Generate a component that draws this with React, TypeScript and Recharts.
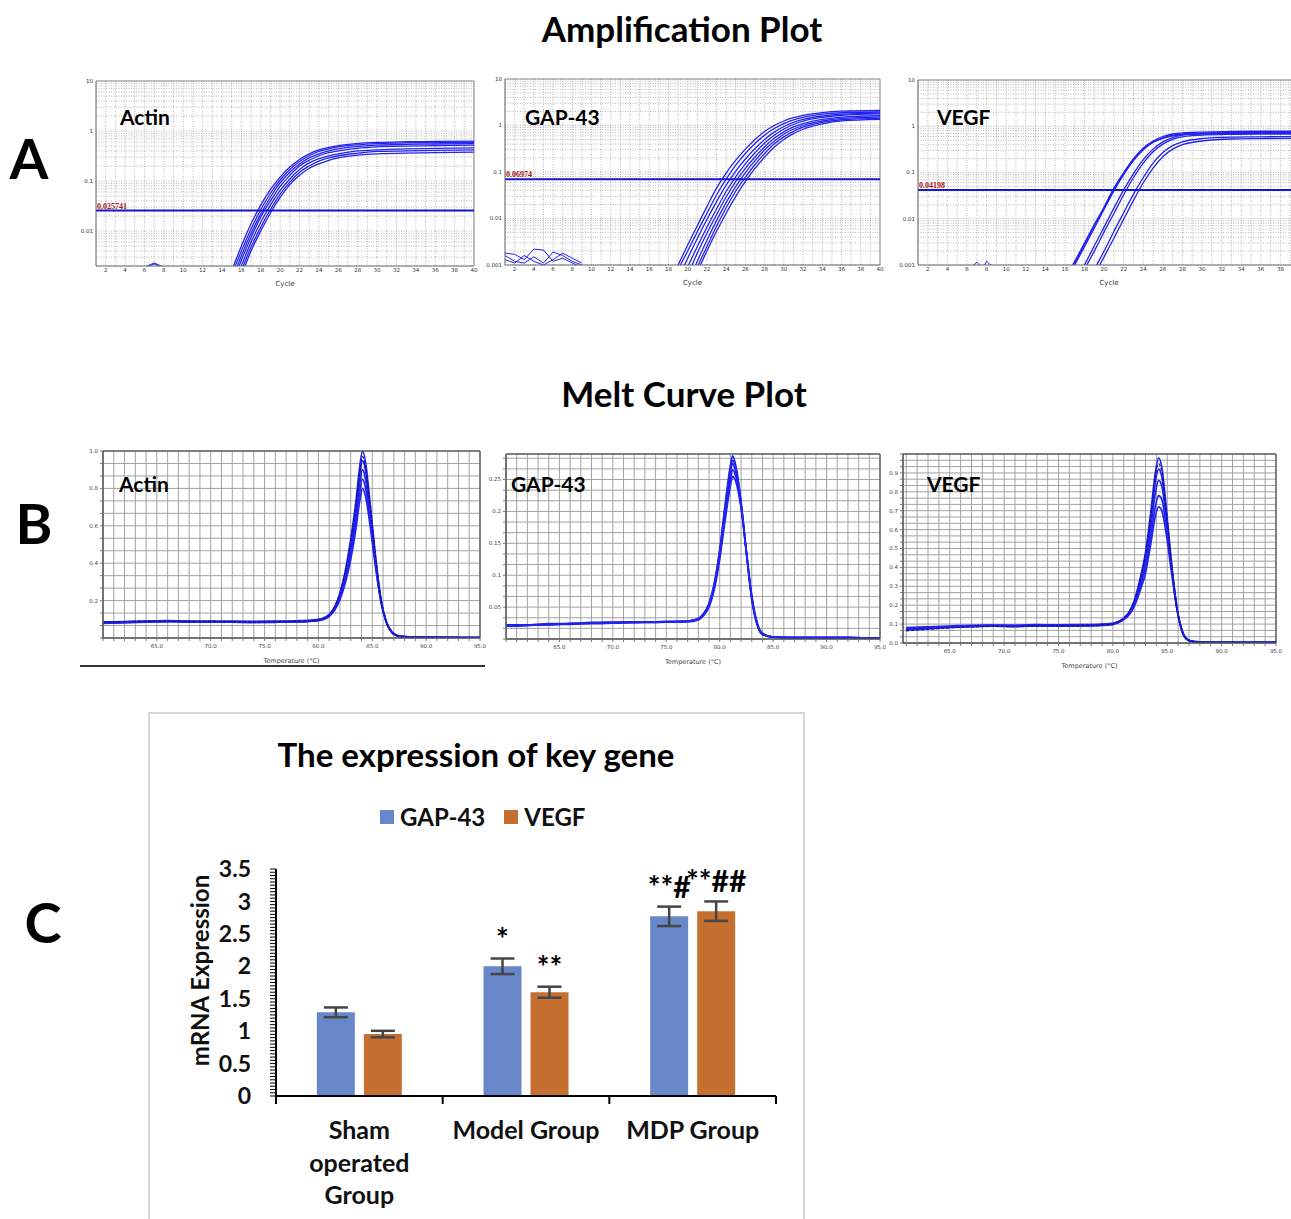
import React from 'react';
import { LineChart, Line, XAxis, YAxis, CartesianGrid, ReferenceLine, BarChart, Bar, ErrorBar, LabelList } from 'recharts';

const SANS = 'Lato, "Open Sans", "DejaVu Sans", sans-serif';
const TINY = '"DejaVu Sans", "Liberation Sans", sans-serif';

// ---------------- Panel A : amplification plots ----------------
const ampDecades = [0.001, 0.01, 0.1, 1, 10];
const ampDecadeLabels = ['0.001', '0.01', '0.1', '1', '10'];
const ampMinorSteps = [2, 3, 4, 5, 6, 7, 8, 9];
const cycleTicks = Array.from({ length: 40 }, (_, i) => i + 1);

const actinCycles = [14, 15, 16, 17, 18, 19, 20, 21, 22, 23, 24, 25, 26, 28, 30, 33, 36, 40];
const actinAmp = [
  [0.0005, 0.0016, 0.005, 0.014, 0.033, 0.068, 0.12, 0.19, 0.27, 0.35, 0.42, 0.47, 0.51, 0.56, 0.59, 0.61, 0.62, 0.63],
  [0.0004, 0.0013, 0.004, 0.011, 0.027, 0.057, 0.105, 0.17, 0.245, 0.32, 0.39, 0.44, 0.48, 0.53, 0.56, 0.58, 0.585, 0.59],
  [0.0003, 0.001, 0.0032, 0.009, 0.022, 0.048, 0.092, 0.15, 0.22, 0.29, 0.35, 0.4, 0.44, 0.49, 0.52, 0.54, 0.55, 0.56],
  [0.00025, 0.0008, 0.0026, 0.0075, 0.019, 0.04, 0.078, 0.13, 0.2, 0.26, 0.32, 0.37, 0.4, 0.45, 0.48, 0.5, 0.51, 0.52],
  [0.0002, 0.0006, 0.002, 0.006, 0.015, 0.033, 0.065, 0.11, 0.17, 0.23, 0.28, 0.32, 0.35, 0.4, 0.42, 0.44, 0.45, 0.46],
  [0.00015, 0.0005, 0.0016, 0.0048, 0.012, 0.027, 0.055, 0.095, 0.15, 0.2, 0.25, 0.29, 0.32, 0.36, 0.39, 0.4, 0.41, 0.42],
  [0.0001, 0.0004, 0.0013, 0.004, 0.01, 0.023, 0.047, 0.085, 0.13, 0.18, 0.22, 0.26, 0.29, 0.33, 0.35, 0.36, 0.37, 0.38],
];
const actinNoise = [
  { cycles: [6, 7, 8], values: [0.0019, 0.0023, 0.0019] },
  { cycles: [6, 7, 8], values: [0.00185, 0.0022, 0.00185] },
];

const gapCycles = [18, 19, 20, 21, 22, 23, 24, 25, 26, 27, 28, 29, 30, 31, 32, 34, 36, 40];
const gapAmp = [
  [0.0004, 0.001, 0.0027, 0.007, 0.018, 0.045, 0.095, 0.18, 0.31, 0.5, 0.74, 1.0, 1.25, 1.47, 1.65, 1.9, 2.03, 2.1],
  [0.0003, 0.0008, 0.002, 0.0052, 0.013, 0.032, 0.07, 0.14, 0.25, 0.41, 0.62, 0.86, 1.1, 1.32, 1.5, 1.75, 1.88, 1.95],
  [0.0002, 0.0005, 0.0014, 0.0037, 0.0095, 0.023, 0.052, 0.105, 0.19, 0.32, 0.5, 0.72, 0.95, 1.17, 1.35, 1.6, 1.75, 1.85],
  [0.0001, 0.0003, 0.0009, 0.0025, 0.0065, 0.016, 0.038, 0.08, 0.15, 0.26, 0.42, 0.62, 0.84, 1.05, 1.24, 1.5, 1.66, 1.78],
  [0.0001, 0.0002, 0.0006, 0.0018, 0.0048, 0.012, 0.029, 0.063, 0.12, 0.21, 0.35, 0.53, 0.73, 0.93, 1.1, 1.36, 1.52, 1.62],
  [0.00005, 0.00015, 0.0004, 0.0012, 0.0034, 0.009, 0.022, 0.049, 0.097, 0.175, 0.3, 0.46, 0.65, 0.84, 1.0, 1.25, 1.42, 1.52],
  [0.00004, 0.0001, 0.0003, 0.0009, 0.0025, 0.0068, 0.017, 0.039, 0.078, 0.145, 0.25, 0.4, 0.57, 0.75, 0.92, 1.17, 1.33, 1.42],
  [0.00003, 0.00008, 0.00022, 0.0007, 0.002, 0.0053, 0.013, 0.03, 0.063, 0.12, 0.21, 0.34, 0.5, 0.67, 0.83, 1.08, 1.26, 1.36],
];
const gapNoise = [
  { cycles: [1, 2, 3, 4, 5, 6, 7, 8, 9], values: [0.0018, 0.0017, 0.0013, 0.0022, 0.0021, 0.0012, 0.0014, 0.0011, 0.0009] },
  { cycles: [1, 2, 3, 4, 5, 6, 7, 8, 9], values: [0.0016, 0.0012, 0.0011, 0.0015, 0.0011, 0.0019, 0.0016, 0.0012, 0.001] },
  { cycles: [1, 2, 3, 4, 5, 6, 7, 8, 9], values: [0.0013, 0.0011, 0.0016, 0.0012, 0.001, 0.0013, 0.0018, 0.0014, 0.0011] },
];

const vegfCycles = [15, 16, 17, 18, 19, 20, 21, 22, 23, 24, 25, 26, 27, 28, 30, 33, 36, 40];
const vegfAmp = [
  [0.0002, 0.0005, 0.0012, 0.003, 0.0075, 0.018, 0.046, 0.1, 0.2, 0.34, 0.48, 0.6, 0.68, 0.72, 0.75, 0.77, 0.78, 0.78],
  [0.00015, 0.0004, 0.001, 0.0025, 0.0063, 0.016, 0.04, 0.09, 0.18, 0.31, 0.45, 0.56, 0.64, 0.68, 0.71, 0.73, 0.74, 0.74],
  [0.00018, 0.00045, 0.0011, 0.0028, 0.007, 0.017, 0.043, 0.095, 0.19, 0.32, 0.45, 0.55, 0.62, 0.66, 0.68, 0.7, 0.7, 0.7],
  [0.00006, 0.00016, 0.0004, 0.001, 0.0026, 0.0066, 0.017, 0.042, 0.095, 0.19, 0.32, 0.46, 0.57, 0.64, 0.69, 0.71, 0.72, 0.72],
  [0.00005, 0.00012, 0.0003, 0.0008, 0.002, 0.0052, 0.013, 0.033, 0.078, 0.16, 0.28, 0.41, 0.52, 0.59, 0.64, 0.67, 0.68, 0.68],
  [0.00002, 0.00005, 0.00012, 0.0003, 0.0008, 0.002, 0.0053, 0.0135, 0.034, 0.078, 0.16, 0.27, 0.38, 0.46, 0.54, 0.58, 0.59, 0.6],
  [0.00001, 0.00003, 0.00008, 0.0002, 0.0006, 0.0015, 0.0038, 0.0098, 0.025, 0.06, 0.125, 0.22, 0.32, 0.4, 0.48, 0.53, 0.54, 0.55],
];
const vegfNoise = [
  { cycles: [6.5, 7, 7.5, 7.8, 8, 8.3, 8.8], values: [0.0009, 0.00115, 0.0009, 0.001, 0.0012, 0.00105, 0.0009] },
];

// ---------------- Panel B : melt curves ----------------
const actinMeltT = [60, 62, 64, 66, 68, 70, 72, 74, 76, 78, 79, 80, 80.5, 81, 81.5, 82, 82.5, 83, 83.5, 83.8, 84.1, 84.4, 84.8, 85.3, 85.8, 86.3, 86.8, 87.3, 88, 90, 92, 95];
const actinMelt = [
  [0.08, 0.084, 0.086, 0.09, 0.087, 0.088, 0.086, 0.085, 0.086, 0.088, 0.09, 0.096, 0.102, 0.122, 0.165, 0.24, 0.36, 0.53, 0.74, 0.9, 1.0, 0.93, 0.72, 0.44, 0.21, 0.085, 0.03, 0.012, 0.006, 0.004, 0.003, 0.002],
  [0.083, 0.086, 0.089, 0.092, 0.088, 0.09, 0.088, 0.087, 0.088, 0.09, 0.092, 0.098, 0.105, 0.125, 0.165, 0.235, 0.345, 0.5, 0.7, 0.855, 0.95, 0.885, 0.69, 0.425, 0.205, 0.085, 0.031, 0.012, 0.006, 0.004, 0.003, 0.002],
  [0.078, 0.082, 0.085, 0.088, 0.09, 0.086, 0.085, 0.083, 0.084, 0.086, 0.088, 0.093, 0.1, 0.118, 0.155, 0.22, 0.325, 0.475, 0.665, 0.81, 0.9, 0.84, 0.655, 0.405, 0.2, 0.085, 0.032, 0.013, 0.007, 0.004, 0.003, 0.002],
  [0.086, 0.088, 0.09, 0.093, 0.09, 0.088, 0.09, 0.089, 0.09, 0.092, 0.094, 0.1, 0.108, 0.125, 0.16, 0.22, 0.315, 0.455, 0.63, 0.765, 0.85, 0.795, 0.625, 0.39, 0.195, 0.085, 0.033, 0.013, 0.007, 0.004, 0.003, 0.002],
  [0.081, 0.083, 0.086, 0.087, 0.085, 0.087, 0.086, 0.084, 0.085, 0.087, 0.089, 0.094, 0.1, 0.115, 0.148, 0.205, 0.295, 0.42, 0.59, 0.72, 0.8, 0.75, 0.6, 0.38, 0.195, 0.088, 0.035, 0.014, 0.008, 0.004, 0.003, 0.002],
  [0.084, 0.087, 0.09, 0.091, 0.087, 0.089, 0.087, 0.086, 0.087, 0.089, 0.091, 0.097, 0.104, 0.124, 0.168, 0.245, 0.36, 0.52, 0.72, 0.875, 0.97, 0.9, 0.7, 0.43, 0.21, 0.085, 0.03, 0.012, 0.006, 0.004, 0.003, 0.002],
];

const gapMeltT = [60, 62, 64, 66, 68, 70, 72, 74, 76, 77, 78, 78.5, 79, 79.5, 80, 80.5, 81, 81.2, 81.5, 82, 82.5, 83, 83.5, 84, 85, 88, 92, 95];
const gapMelt = [
  [0.021, 0.022, 0.023, 0.024, 0.025, 0.026, 0.026, 0.027, 0.027, 0.028, 0.032, 0.04, 0.056, 0.088, 0.14, 0.21, 0.272, 0.287, 0.272, 0.215, 0.135, 0.062, 0.022, 0.007, 0.003, 0.002, 0.002, 0.001],
  [0.02, 0.021, 0.023, 0.023, 0.025, 0.025, 0.026, 0.026, 0.027, 0.028, 0.031, 0.039, 0.054, 0.085, 0.135, 0.2, 0.26, 0.275, 0.262, 0.21, 0.135, 0.064, 0.024, 0.008, 0.003, 0.002, 0.002, 0.001],
  [0.022, 0.022, 0.024, 0.024, 0.026, 0.026, 0.027, 0.027, 0.028, 0.028, 0.031, 0.038, 0.052, 0.082, 0.13, 0.193, 0.25, 0.265, 0.255, 0.208, 0.136, 0.066, 0.025, 0.008, 0.003, 0.002, 0.002, 0.001],
  [0.021, 0.022, 0.022, 0.024, 0.024, 0.025, 0.026, 0.027, 0.027, 0.027, 0.03, 0.037, 0.05, 0.078, 0.125, 0.185, 0.24, 0.255, 0.247, 0.205, 0.137, 0.068, 0.026, 0.009, 0.003, 0.002, 0.002, 0.001],
  [0.02, 0.022, 0.023, 0.024, 0.025, 0.026, 0.026, 0.026, 0.027, 0.028, 0.032, 0.04, 0.055, 0.087, 0.138, 0.205, 0.266, 0.28, 0.268, 0.213, 0.135, 0.063, 0.023, 0.007, 0.003, 0.002, 0.002, 0.001],
];

const vegfMeltT = [61, 63, 65, 67, 69, 71, 73, 75, 77, 79, 80, 80.5, 81, 81.5, 82, 82.5, 83, 83.5, 83.9, 84.2, 84.5, 84.9, 85.4, 85.9, 86.4, 86.9, 87.5, 88.5, 90, 93, 95];
const vegfMelt = [
  [0.072, 0.08, 0.085, 0.09, 0.092, 0.09, 0.094, 0.093, 0.094, 0.097, 0.102, 0.112, 0.132, 0.165, 0.23, 0.34, 0.48, 0.7, 0.9, 0.98, 0.93, 0.72, 0.42, 0.18, 0.055, 0.015, 0.006, 0.004, 0.003, 0.003, 0.003],
  [0.078, 0.083, 0.087, 0.091, 0.093, 0.092, 0.095, 0.094, 0.095, 0.098, 0.103, 0.113, 0.132, 0.163, 0.222, 0.325, 0.455, 0.66, 0.85, 0.92, 0.88, 0.69, 0.41, 0.18, 0.057, 0.016, 0.006, 0.004, 0.003, 0.003, 0.003],
  [0.068, 0.075, 0.082, 0.086, 0.09, 0.088, 0.09, 0.089, 0.09, 0.093, 0.098, 0.108, 0.126, 0.155, 0.21, 0.305, 0.425, 0.615, 0.79, 0.86, 0.83, 0.66, 0.4, 0.18, 0.058, 0.017, 0.007, 0.004, 0.003, 0.003, 0.003],
  [0.082, 0.086, 0.09, 0.094, 0.095, 0.094, 0.097, 0.096, 0.097, 0.1, 0.104, 0.113, 0.13, 0.158, 0.21, 0.295, 0.4, 0.57, 0.72, 0.78, 0.76, 0.62, 0.39, 0.18, 0.06, 0.018, 0.007, 0.004, 0.003, 0.003, 0.003],
  [0.075, 0.079, 0.084, 0.088, 0.089, 0.087, 0.09, 0.09, 0.091, 0.094, 0.099, 0.108, 0.124, 0.15, 0.198, 0.275, 0.37, 0.53, 0.67, 0.72, 0.7, 0.58, 0.37, 0.175, 0.06, 0.018, 0.007, 0.004, 0.003, 0.003, 0.003],
  [0.064, 0.072, 0.08, 0.085, 0.088, 0.087, 0.09, 0.09, 0.091, 0.095, 0.1, 0.11, 0.13, 0.163, 0.226, 0.332, 0.47, 0.68, 0.88, 0.95, 0.9, 0.7, 0.41, 0.18, 0.056, 0.016, 0.006, 0.004, 0.003, 0.003, 0.003],
];

const meltXLabels = [65, 70, 75, 80, 85, 90, 95];
const actinMeltYLabels = [0.2, 0.4, 0.6, 0.8, 1.0];
const gapMeltYLabels = [0.05, 0.1, 0.15, 0.2, 0.25];
const vegfMeltYLabels = [0, 0.1, 0.2, 0.3, 0.4, 0.5, 0.6, 0.7, 0.8, 0.9];

// ---------------- Panel C : bar chart ----------------
const groupNames = ['Sham operated Group', 'Model Group', 'MDP Group'];
const groupLines = [['Sham', 'operated', 'Group'], ['Model Group'], ['MDP Group']];
const gapVals = [1.29, 2.0, 2.77];
const gapErr = [0.075, 0.12, 0.15];
const vegfVals = [0.955, 1.6, 2.85];
const vegfErr = [0.05, 0.085, 0.15];
const gapSig = ['', '*', '**#'];
const vegfSig = ['', '**', '**##'];
const barYLabels = [0, 0.5, 1, 1.5, 2, 2.5, 3, 3.5];
const barMinorStep = 0.05;

const GAP_COLOR = '#6787C9';
const VEGF_COLOR = '#C56F31';
const CURVE = '#2323ee';

// ---------- helpers ----------
const ampTicks = [
  ...ampDecades,
  ...ampDecades.slice(0, -1).flatMap((d) => ampMinorSteps.map((m) => +(d * m).toPrecision(3))),
].sort((a, b) => a - b);

const near = (arr: number[], v: number) => arr.find((a) => Math.abs(a - v) < 1e-6);

const thrLabel = (text: string) => (p: any) => {
  const vb = p.viewBox || {};
  return (
    <text x={(vb.x || 0) + 1} y={(vb.y || 0) - 2} fill="#a81414" fontSize={8} fontWeight={700} fontFamily='"Liberation Serif", serif'>
      {text}
    </text>
  );
};

type Box = [number, number, number, number];

function AmpPlot({ box, yMin, cycles, curves, noise, thr, thrText, maxLabel = 40 }: any) {
  const padL = 28, padR = 4, padT = 3, padB = 26;
  const [x0, y0, x1, y1] = box as Box;
  const w = x1 - x0, h = y1 - y0;
  const yTicks = ampTicks.filter((t) => t >= yMin - 1e-12);
  return (
    <div style={{ position: 'absolute', left: x0 - padL, top: y0 - padT }}>
      <LineChart width={w + padL + padR} height={h + padT + padB} margin={{ top: padT, right: padR, bottom: 0, left: 0 }}>
        <CartesianGrid stroke="#8a8a8a" strokeDasharray="1 1.5" strokeWidth={0.6} />
        <XAxis
          type="number" dataKey="x" domain={[1, 40]} ticks={cycleTicks} interval={0} allowDataOverflow height={padB}
          tickFormatter={(v: number) => (v % 2 === 0 && v <= maxLabel ? String(v) : '')}
          tick={{ fontSize: 5.5, fill: '#333', fontFamily: TINY }} tickLine={false} tickSize={1} tickMargin={1}
          axisLine={{ stroke: '#6a6a6a' }}
          label={{ value: 'Cycle', position: 'insideBottom', offset: 6, fontSize: 7, fill: '#333', fontFamily: TINY }}
        />
        <YAxis
          type="number" scale="log" domain={[yMin, 10]} allowDataOverflow ticks={yTicks} interval={0} width={padL}
          tickFormatter={(v: number) => { const d = near(ampDecades, v); return d !== undefined ? ampDecadeLabels[ampDecades.indexOf(d)] : ''; }}
          tick={{ fontSize: 5.5, fill: '#333', fontFamily: TINY }} tickLine={false} tickSize={1} tickMargin={2}
          axisLine={{ stroke: '#6a6a6a' }}
        />
        <ReferenceLine y={10} stroke="#8a8a8a" strokeWidth={1} />
        <ReferenceLine x={40} stroke="#8a8a8a" strokeWidth={1} />
        {noise.map((n: any, k: number) => (
          <Line key={'n' + k} data={n.cycles.map((c: number, i: number) => ({ x: c, y: n.values[i] }))} dataKey="y"
            type="linear" dot={false} stroke={CURVE} strokeWidth={1} isAnimationActive={false} />
        ))}
        {curves.map((vals: number[], k: number) => (
          <Line key={'c' + k} data={cycles.map((c: number, i: number) => ({ x: c, y: vals[i] }))} dataKey="y"
            type="monotone" dot={false} stroke={CURVE} strokeWidth={1.3} isAnimationActive={false} />
        ))}
        <ReferenceLine y={thr} stroke="#1414d2" strokeWidth={2} label={thrLabel(thrText)} />
      </LineChart>
    </div>
  );
}

function MeltPlot({ box, xMin, yMax, yStep, yLabels, yFmt, temps, curves, darkIndex }: any) {
  const padL = 26, padR = 10, padT = 3, padB = 30;
  const [x0, y0, x1, y1] = box as Box;
  const w = x1 - x0, h = y1 - y0;
  const xTicks: number[] = [];
  for (let t = Math.ceil(xMin); t <= 95; t += 1) xTicks.push(t);
  const yTicks: number[] = [];
  for (let k = 0; k * yStep <= yMax + 1e-9; k++) yTicks.push(+(k * yStep).toFixed(5));
  return (
    <div style={{ position: 'absolute', left: x0 - padL, top: y0 - padT }}>
      <LineChart width={w + padL + padR} height={h + padT + padB} margin={{ top: padT, right: padR, bottom: 0, left: 0 }}>
        <CartesianGrid stroke="#a2a2a2" strokeWidth={1} />
        <XAxis
          type="number" dataKey="x" domain={[xMin, 95]} ticks={xTicks} interval={0} allowDataOverflow height={padB}
          tickFormatter={(v: number) => (near(meltXLabels, v) !== undefined ? v.toFixed(1) : '')}
          tick={{ fontSize: 5.5, fill: '#444', fontFamily: TINY }} tickSize={3} tickMargin={3}
          tickLine={{ stroke: '#777' }} axisLine={{ stroke: '#555', strokeWidth: 1.5 }}
          label={{ value: 'Temperature (°C)', position: 'insideBottom', offset: 5, fontSize: 6.5, fill: '#444', fontFamily: TINY }}
        />
        <YAxis
          type="number" domain={[0, yMax]} allowDataOverflow ticks={yTicks} interval={0} width={padL}
          tickFormatter={(v: number) => { const l = near(yLabels, v); return l !== undefined ? yFmt(l) : ''; }}
          tick={{ fontSize: 5.5, fill: '#444', fontFamily: TINY }} tickSize={3} tickMargin={2}
          tickLine={{ stroke: '#777' }} axisLine={{ stroke: '#555', strokeWidth: 1.5 }}
        />
        <ReferenceLine y={yMax} stroke="#666" strokeWidth={1.5} />
        <ReferenceLine x={95} stroke="#666" strokeWidth={1.5} />
        {curves.map((vals: number[], k: number) => (
          <Line key={'m' + k} data={temps.map((t: number, i: number) => ({ x: t, y: vals[i] }))} dataKey="y"
            type="monotone" dot={false}
            stroke={k === darkIndex ? '#12127a' : CURVE}
            strokeWidth={k === darkIndex ? 1.1 : 1.7}
            strokeDasharray={k === darkIndex ? '3 2' : undefined}
            isAnimationActive={false} />
        ))}
      </LineChart>
    </div>
  );
}

const Txt = ({ x, y, size, children, center = true, weight = 700 }: any) => (
  <div
    style={{
      position: 'absolute', left: x, top: y, fontSize: size, fontWeight: weight, fontFamily: SANS,
      transform: center ? 'translate(-50%, -50%)' : 'translate(0, -50%)', whiteSpace: 'nowrap', lineHeight: 1, color: '#000',
    }}
  >
    {children}
  </div>
);

// ---------- bar chart ----------
const BAR_PLOT_W = 500;
const BAND = BAR_PLOT_W / 3;

const XTick = (p: any) => {
  const { x, y, index } = p;
  const lines = groupLines[index] || [];
  return (
    <g>
      <line x1={x - BAND / 2} x2={x - BAND / 2} y1={y} y2={y + 8} stroke="#000" strokeWidth={2} />
      {index === groupLines.length - 1 && <line x1={x + BAND / 2} x2={x + BAND / 2} y1={y} y2={y + 8} stroke="#000" strokeWidth={2} />}
      {lines.map((t, i) => (
        <text key={i} x={x} y={y + 33 + i * 32.5} textAnchor="middle" dominantBaseline="central" fontSize={25} fontWeight={700} fontFamily={SANS} fill="#111">
          {t}
        </text>
      ))}
    </g>
  );
};

const sigContent = (errs: number[], vals: number[]) => (p: any) => {
  const { x, y, width, height, index, value } = p;
  if (!value) return null;
  const errPx = (errs[index] / vals[index]) * Number(height);
  return (
    <text x={Number(x) + Number(width) / 2} y={Number(y) - errPx - 9} textAnchor="middle" fontSize={30} fontWeight={700} fontFamily={SANS} fill="#000">
      {value}
    </text>
  );
};

const barRows = groupNames.map((g, i) => ({
  g, gap: gapVals[i], gapE: gapErr[i], vegf: vegfVals[i], vegfE: vegfErr[i], gapS: gapSig[i], vegfS: vegfSig[i],
}));
const barTicks = Array.from({ length: Math.round(3.5 / barMinorStep) + 1 }, (_, i) => +(i * barMinorStep).toFixed(2));

function GeneBars() {
  return (
    <div style={{ position: 'absolute', left: 148, top: 712 }}>
      <BarChart width={655} height={507} data={barRows} margin={{ top: 157, right: 27, left: 0, bottom: 0 }} barCategoryGap="24.5%" barGap={9}>
        <XAxis dataKey="g" height={123} interval={0} axisLine={{ stroke: '#000', strokeWidth: 2 }} tickLine={false} tickSize={0} tickMargin={0} tick={<XTick />} />
        <YAxis
          type="number" domain={[0, 3.5]} ticks={barTicks} interval={0} width={128}
          axisLine={{ stroke: '#000', strokeWidth: 2 }} tickLine={{ stroke: '#000', strokeWidth: 1 }} tickSize={6} tickMargin={19}
          tickFormatter={(v: number) => { const l = near(barYLabels, v); return l !== undefined ? String(l) : ''; }}
          tick={{ fontSize: 23, fontWeight: 700, fill: '#111', fontFamily: SANS }}
          label={{
            content: (lp: any) => {
              const vb = lp.viewBox || { x: 0, y: 0, width: 0, height: 0 };
              const cx = vb.x + 51, cy = vb.y + vb.height / 2 - 12;
              return (
                <text x={cx} y={cy} transform={`rotate(-90 ${cx} ${cy})`} textAnchor="middle" dominantBaseline="central" fontSize={24} fontWeight={700} fontFamily={SANS} fill="#111">
                  mRNA Expression
                </text>
              );
            },
          }}
        />
        <Bar dataKey="gap" fill={GAP_COLOR} isAnimationActive={false}>
          <ErrorBar dataKey="gapE" width={12} stroke="#454545" strokeWidth={2.5} />
          <LabelList dataKey="gapS" content={sigContent(gapErr, gapVals)} />
        </Bar>
        <Bar dataKey="vegf" fill={VEGF_COLOR} isAnimationActive={false}>
          <ErrorBar dataKey="vegfE" width={12} stroke="#454545" strokeWidth={2.5} />
          <LabelList dataKey="vegfS" content={sigContent(vegfErr, vegfVals)} />
        </Bar>
      </BarChart>
    </div>
  );
}

export default function App() {
  return (
    <div style={{ position: 'absolute', left: 0, top: 0, width: 1291, height: 1219, overflow: 'hidden', background: '#fff', fontFamily: SANS }}>
      {/* Panel A */}
      <Txt x={682} y={28} size={35}>Amplification Plot</Txt>
      <Txt x={29} y={158} size={56}>A</Txt>
      <AmpPlot box={[96, 81, 474, 266]} yMin={0.002} cycles={actinCycles} curves={actinAmp} noise={actinNoise} thr={0.025741} thrText="0.025741" />
      <AmpPlot box={[505, 79, 880, 265]} yMin={0.001} cycles={gapCycles} curves={gapAmp} noise={gapNoise} thr={0.06974} thrText="0.06974" />
      <AmpPlot box={[918, 80, 1300, 265]} yMin={0.001} cycles={vegfCycles} curves={vegfAmp} noise={vegfNoise} thr={0.04198} thrText="0.04198" maxLabel={38} />
      <Txt x={120} y={116} size={21} center={false}>Actin</Txt>
      <Txt x={525} y={116} size={21} center={false}>GAP-43</Txt>
      <Txt x={937} y={116} size={21} center={false}>VEGF</Txt>

      {/* Panel B */}
      <Txt x={684} y={393} size={35}>Melt Curve Plot</Txt>
      <Txt x={34} y={523} size={56}>B</Txt>
      <MeltPlot box={[103, 451, 480, 638]} xMin={60} yMax={1.0} yStep={1 / 15} yLabels={actinMeltYLabels} yFmt={(v: number) => v.toFixed(1)} temps={actinMeltT} curves={actinMelt} darkIndex={5} />
      <MeltPlot box={[506, 454, 880, 639]} xMin={60} yMax={0.29} yStep={0.05 / 3} yLabels={gapMeltYLabels} yFmt={(v: number) => String(v)} temps={gapMeltT} curves={gapMelt} darkIndex={-1} />
      <MeltPlot box={[903, 454, 1276, 643]} xMin={60.7} yMax={1.0} yStep={1 / 30} yLabels={vegfMeltYLabels} yFmt={(v: number) => v.toFixed(1)} temps={vegfMeltT} curves={vegfMelt} darkIndex={5} />
      <div style={{ position: 'absolute', left: 80, top: 665, width: 405, height: 1.5, background: '#333' }} />
      <Txt x={119} y={483} size={21} center={false}>Actin</Txt>
      <Txt x={511} y={483} size={21} center={false}>GAP-43</Txt>
      <Txt x={927} y={483} size={21} center={false}>VEGF</Txt>

      {/* Panel C */}
      <Txt x={43} y={922} size={56}>C</Txt>
      <div style={{ position: 'absolute', left: 148, top: 712, width: 653, height: 520, border: '2px solid #d6d6d6' }} />
      <GeneBars />
      <Txt x={476} y={754} size={33}>The expression of key gene</Txt>
      <div style={{ position: 'absolute', left: 380, top: 817, transform: 'translateY(-50%)', display: 'flex', alignItems: 'center', fontFamily: SANS, fontWeight: 700, fontSize: 24, color: '#111', lineHeight: 1 }}>
        <span style={{ width: 14, height: 14, background: GAP_COLOR, display: 'inline-block', marginRight: 6 }} />
        <span>GAP-43</span>
        <span style={{ width: 14, height: 14, background: VEGF_COLOR, display: 'inline-block', marginLeft: 19, marginRight: 6 }} />
        <span>VEGF</span>
      </div>
    </div>
  );
}
